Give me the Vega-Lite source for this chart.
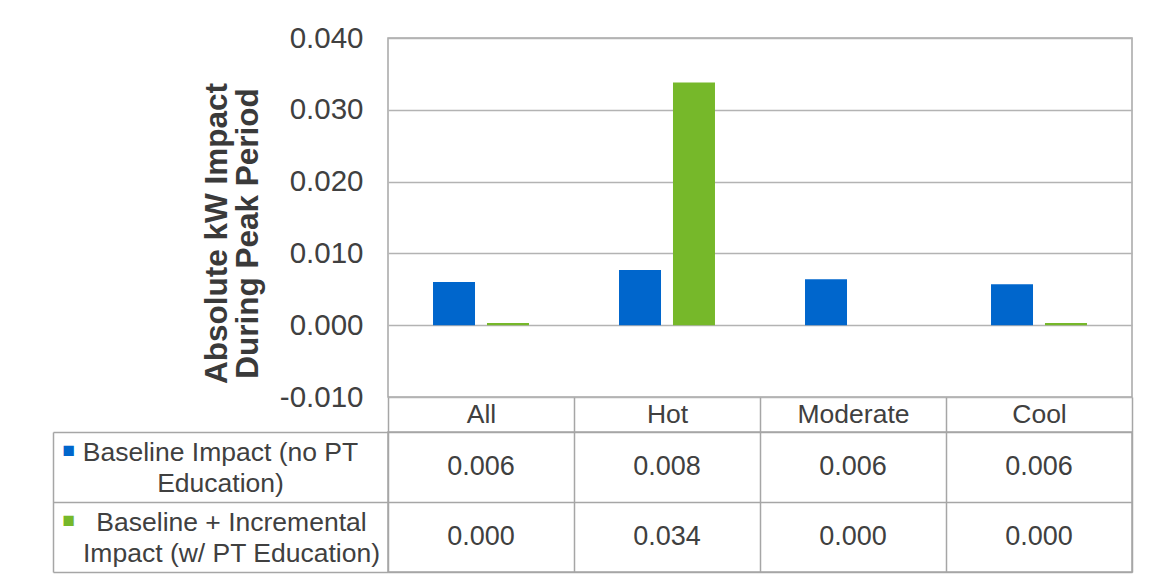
{
  "$schema": "https://vega.github.io/schema/vega-lite/v6.json",
  "padding": {"left": 51, "top": 22, "right": 10, "bottom": 4},
  "background": "white",
  "config": {
    "font": "Liberation Sans",
    "view": {"stroke": "#A6A6A6", "strokeWidth": 1.5},
    "locale": {"number": {"decimal": ".", "thousands": ",", "grouping": [3], "currency": ["$", ""], "minus": "-"}},
    "axis": {"labelColor": "#404040", "titleColor": "#3a3a3a", "labelFont": "Liberation Sans", "titleFont": "Liberation Sans"}
  },
  "data": {
    "values": [
      {"category": "All", "series": "Baseline Impact (no PT Education)", "value": 0.0060},
      {"category": "All", "series": "Baseline + Incremental Impact (w/ PT Education)", "value": 0.0003},
      {"category": "Hot", "series": "Baseline Impact (no PT Education)", "value": 0.0077},
      {"category": "Hot", "series": "Baseline + Incremental Impact (w/ PT Education)", "value": 0.0338},
      {"category": "Moderate", "series": "Baseline Impact (no PT Education)", "value": 0.0064},
      {"category": "Moderate", "series": "Baseline + Incremental Impact (w/ PT Education)", "value": 0.0},
      {"category": "Cool", "series": "Baseline Impact (no PT Education)", "value": 0.0057},
      {"category": "Cool", "series": "Baseline + Incremental Impact (w/ PT Education)", "value": 0.0003}
    ]
  },
  "bounds": "flush",
  "spacing": 35,
  "vconcat": [
    {
      "width": 744,
      "height": 359,
      "mark": {"type": "bar"},
      "encoding": {
        "x": {
          "field": "category", "type": "nominal",
          "sort": ["All", "Hot", "Moderate", "Cool"],
          "scale": {"paddingInner": 0.484, "paddingOuter": 0.242},
          "axis": null
        },
        "xOffset": {
          "field": "series", "type": "nominal",
          "sort": ["Baseline Impact (no PT Education)", "Baseline + Incremental Impact (w/ PT Education)"],
          "scale": {"paddingInner": 0.222, "paddingOuter": 0}
        },
        "y": {
          "field": "value", "type": "quantitative",
          "scale": {"domain": [-0.01, 0.04], "nice": false, "zero": false},
          "axis": {
            "values": [-0.01, 0, 0.01, 0.02, 0.03, 0.04],
            "format": ".3f",
            "labelFontSize": 29.5,
            "labelPadding": 25,
            "ticks": false,
            "domain": false,
            "grid": true,
            "gridColor": "#B3B3B3",
            "gridWidth": 1.5,
            "title": ["Absolute kW Impact", "During Peak Period"],
            "titleFontSize": 31.5,
            "titleFontWeight": "bold",
            "titleLineHeight": 31,
            "titlePadding": 15,
            "titleY": 195
          }
        },
        "color": {
          "field": "series", "type": "nominal",
          "scale": {
            "domain": ["Baseline Impact (no PT Education)", "Baseline + Incremental Impact (w/ PT Education)"],
            "range": ["#0066CC", "#76B82A"]
          },
          "legend": null
        }
      }
    },
    {
      "width": 744,
      "height": 140,
      "layer": [
        {
          "mark": {"type": "text", "fontSize": 27, "color": "#404040", "font": "Liberation Sans"},
          "encoding": {
            "x": {
              "field": "category", "type": "nominal",
              "sort": ["All", "Hot", "Moderate", "Cool"],
              "scale": {"type": "band", "paddingInner": 0, "paddingOuter": 0},
              "axis": {
                "orient": "top",
                "tickBand": "extent",
                "tickSize": 35,
                "tickColor": "#A6A6A6",
                "tickWidth": 1.5,
                "grid": true,
                "gridColor": "#A6A6A6",
                "gridWidth": 1.5,
                "domain": false,
                "labelExpr": "datum.value ? datum.label : ''",
                "labelFontSize": 26.5,
                "labelAngle": 0,
                "labelBaseline": "middle",
                "labelPadding": -17,
                "title": null
              }
            },
            "y": {
              "field": "series", "type": "nominal",
              "sort": ["Baseline Impact (no PT Education)", "Baseline + Incremental Impact (w/ PT Education)"],
              "scale": {"type": "band", "paddingInner": 0, "paddingOuter": 0},
              "axis": {
                "orient": "left",
                "tickBand": "extent",
                "tickSize": 335,
                "tickColor": "#A6A6A6",
                "tickWidth": 1.5,
                "grid": true,
                "gridColor": "#A6A6A6",
                "gridWidth": 1.5,
                "domain": false,
                "labelExpr": "datum.value == 'Baseline Impact (no PT Education)' ? ['Baseline Impact (no PT', 'Education)'] : (datum.value == 'Baseline + Incremental Impact (w/ PT Education)' ? ['Baseline + Incremental', 'Impact (w/ PT Education)'] : '')",
                "labelAlign": "center",
                "labelBaseline": "middle",
                "labelOffset": -15,
                "labelPadding": {"condition": {"test": "datum.value == 'Baseline Impact (no PT Education)'", "value": -167}, "value": -178},
                "labelFontSize": 26.5,
                "labelLineHeight": 31,
                "labelLimit": 0,
                "title": null
              }
            },
            "text": {"field": "value", "type": "quantitative", "format": ".3f"}
          }
        },
        {
          "mark": {"type": "text", "text": ""},
          "encoding": {
            "y": {
              "field": "series", "type": "nominal",
              "sort": ["Baseline Impact (no PT Education)", "Baseline + Incremental Impact (w/ PT Education)"],
              "scale": {"type": "band", "paddingInner": 0, "paddingOuter": 0},
              "axis": {
                "orient": "left",
                "offset": 335,
                "ticks": false,
                "grid": false,
                "domain": true,
                "domainColor": "#A6A6A6",
                "domainWidth": 1.5,
                "labelExpr": "'■'",
                "labelColor": {"condition": {"test": "datum.value == 'Baseline Impact (no PT Education)'", "value": "#0066CC"}, "value": "#76B82A"},
                "labelAlign": "left",
                "labelBaseline": "middle",
                "labelPadding": -9,
                "labelOffset": -16,
                "labelFontSize": 21,
                "title": null
              }
            }
          }
        }
      ],
      "resolve": {"axis": {"y": "independent"}}
    }
  ]
}
